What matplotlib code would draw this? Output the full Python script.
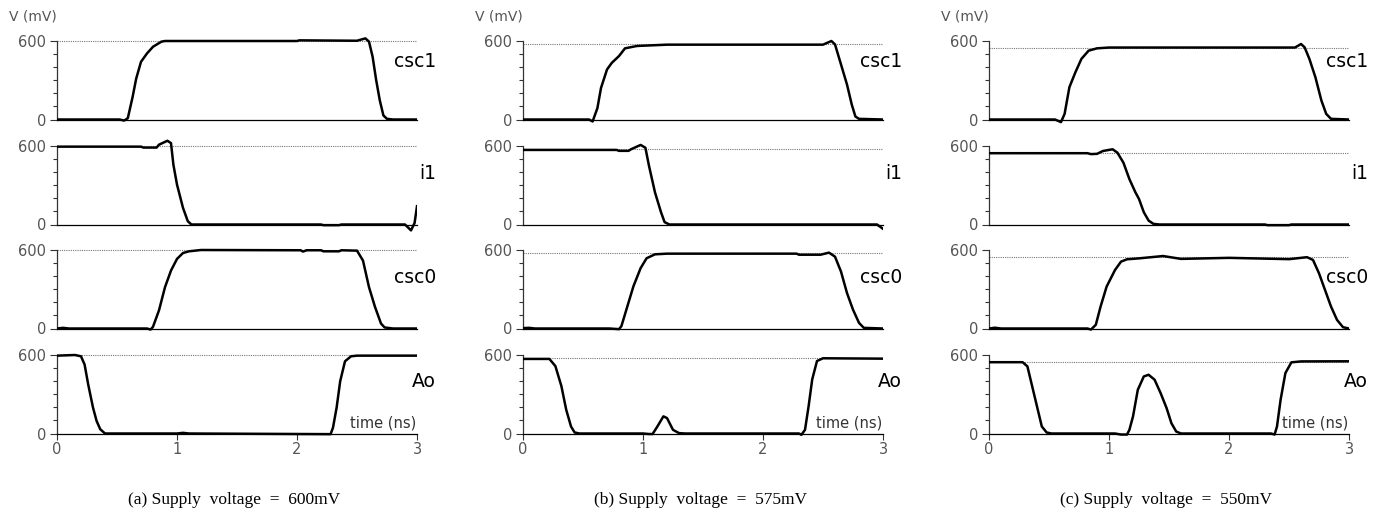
import numpy as np
import matplotlib
matplotlib.use("Agg")
import matplotlib.pyplot as plt
from matplotlib.ticker import MultipleLocator

# ---------------- data (time in ns, voltage in mV) ----------------
supply = [600, 575, 550]
captions = ["(a) Supply  voltage  =  600mV",
            "(b) Supply  voltage  =  575mV",
            "(c) Supply  voltage  =  550mV"]
signal_names = ["csc1", "i1", "csc0", "Ao"]
xticks = [0, 1, 2, 3]

# panel (a) 600mV
csc1_a_t = [0, 0.52, 0.56, 0.59, 0.63, 0.66, 0.70, 0.75, 0.80, 0.87, 0.90, 2.00, 2.02, 2.50, 2.57, 2.60, 2.63, 2.66, 2.69, 2.72, 2.75, 2.80, 3.0]
csc1_a_v = [0, 0, -8, 10, 172, 313, 441, 505, 556, 595, 600, 600, 605, 602, 620, 595, 480, 300, 146, 31, 5, 0, 0]
i1_a_t = [0, 0.70, 0.72, 0.83, 0.85, 0.92, 0.95, 0.97, 1.00, 1.05, 1.09, 1.12, 2.20, 2.22, 2.35, 2.37, 2.90, 2.95, 2.98, 3.0]
i1_a_v = [595, 595, 588, 588, 610, 640, 622, 457, 305, 127, 25, 0, 0, -5, -5, 0, 0, -45, 12, 140]
csc0_a_t = [0, 0.05, 0.10, 0.75, 0.78, 0.80, 0.85, 0.90, 0.95, 1.00, 1.05, 1.10, 1.20, 2.03, 2.05, 2.08, 2.20, 2.22, 2.35, 2.37, 2.50, 2.55, 2.60, 2.65, 2.70, 2.73, 2.80, 3.0]
csc0_a_v = [0, 5, 0, 0, -8, 13, 139, 316, 443, 532, 577, 590, 600, 598, 588, 598, 598, 590, 590, 598, 595, 519, 316, 165, 38, 8, 0, 0]
ao_a_t = [0, 0.15, 0.20, 0.23, 0.26, 0.30, 0.33, 0.36, 0.40, 1.00, 1.05, 1.10, 2.28, 2.30, 2.33, 2.36, 2.40, 2.45, 2.50, 3.0]
ao_a_v = [595, 600, 590, 527, 375, 198, 96, 33, 0, 0, 5, 0, -5, 45, 197, 400, 552, 590, 595, 595]

# panel (b) 575mV
csc1_b_t = [0, 0.55, 0.58, 0.62, 0.65, 0.70, 0.74, 0.80, 0.85, 0.95, 1.20, 2.50, 2.57, 2.60, 2.65, 2.70, 2.74, 2.77, 2.80, 3.0]
csc1_b_v = [0, 0, -15, 87, 241, 382, 433, 485, 544, 562, 572, 572, 600, 574, 421, 267, 113, 23, 5, 0]
i1_b_t = [0, 0.78, 0.80, 0.88, 0.90, 0.98, 1.02, 1.05, 1.10, 1.15, 1.18, 1.22, 2.95, 3.0]
i1_b_v = [570, 570, 563, 563, 575, 608, 587, 448, 245, 94, 18, 0, 0, -33]
csc0_b_t = [0, 0.05, 0.10, 0.72, 0.80, 0.82, 0.87, 0.92, 0.98, 1.03, 1.10, 1.20, 2.28, 2.30, 2.48, 2.55, 2.60, 2.65, 2.70, 2.75, 2.80, 2.84, 3.0]
csc0_b_v = [3, 5, 0, 0, -5, 18, 170, 322, 461, 537, 567, 572, 572, 564, 564, 580, 549, 435, 271, 144, 43, 5, 0]
ao_b_t = [0, 0.22, 0.27, 0.32, 0.36, 0.40, 0.43, 0.47, 1.00, 1.05, 1.08, 1.12, 1.17, 1.20, 1.25, 1.30, 1.35, 2.30, 2.32, 2.35, 2.38, 2.41, 2.45, 2.50, 3.0]
ao_b_v = [570, 570, 515, 362, 182, 54, 8, 0, 0, -4, -4, 54, 131, 118, 28, 3, 0, 0, -10, 28, 208, 413, 554, 575, 572]

# panel (c) 550mV
csc1_c_t = [0, 0.55, 0.60, 0.63, 0.67, 0.72, 0.77, 0.83, 0.90, 1.00, 2.55, 2.60, 2.63, 2.67, 2.72, 2.77, 2.81, 2.85, 3.0]
csc1_c_v = [0, 0, -20, 43, 247, 361, 463, 526, 544, 550, 550, 577, 552, 463, 323, 145, 43, 5, 0]
i1_c_t = [0, 0.82, 0.85, 0.90, 0.95, 1.03, 1.07, 1.12, 1.17, 1.22, 1.25, 1.29, 1.33, 1.37, 1.42, 2.30, 2.32, 2.50, 2.52, 3.0]
i1_c_v = [545, 545, 538, 540, 562, 575, 549, 473, 347, 246, 195, 94, 30, 5, 0, 0, -5, -5, 0, 0]
csc0_c_t = [0, 0.05, 0.10, 0.82, 0.85, 0.89, 0.93, 0.98, 1.05, 1.10, 1.15, 1.25, 1.45, 1.60, 2.00, 2.50, 2.65, 2.70, 2.75, 2.80, 2.85, 2.90, 2.95, 3.0]
csc0_c_v = [0, 6, 0, 0, -8, 28, 168, 320, 447, 511, 529, 536, 554, 532, 540, 530, 545, 524, 422, 295, 168, 66, 10, 0]
ao_c_t = [0, 0.28, 0.32, 0.36, 0.40, 0.44, 0.48, 0.52, 1.05, 1.10, 1.15, 1.17, 1.20, 1.24, 1.29, 1.33, 1.38, 1.43, 1.48, 1.52, 1.56, 1.60, 2.35, 2.38, 2.40, 2.43, 2.47, 2.52, 2.60, 3.0]
ao_c_v = [545, 545, 513, 360, 207, 54, 8, 0, 0, -8, -8, 28, 130, 334, 436, 449, 411, 309, 194, 79, 15, 0, 0, -8, 54, 258, 462, 544, 551, 552]

panels = [
    [(csc1_a_t, csc1_a_v), (i1_a_t, i1_a_v), (csc0_a_t, csc0_a_v), (ao_a_t, ao_a_v)],
    [(csc1_b_t, csc1_b_v), (i1_b_t, i1_b_v), (csc0_b_t, csc0_b_v), (ao_b_t, ao_b_v)],
    [(csc1_c_t, csc1_c_v), (i1_c_t, i1_c_v), (csc0_c_t, csc0_c_v), (ao_c_t, ao_c_v)],
]

# ---------------- layout (pixels) ----------------
W, H = 1388, 519
fig = plt.figure(figsize=(W / 100, H / 100), dpi=100)

x_left = [57, 523, 989]
x_width = 360
row_top = [41, 146, 250, 355]   # pixel row of 600 mV
row_h = 78.5                    # pixels for 600 mV
ylo, yhi = -60, 660
label_y = [440, 390, 390, 395]

tick_color = "#555555"

for p in range(3):
    for r in range(4):
        px_per_mv = row_h / 600.0
        y0_px = row_top[r] + row_h
        bottom_px = y0_px - ylo * px_per_mv
        height_px = (yhi - ylo) * px_per_mv
        ax = fig.add_axes([x_left[p] / W, 1 - bottom_px / H, x_width / W, height_px / H])
        ax.set_xlim(0, 3)
        ax.set_ylim(ylo, yhi)
        ax.patch.set_alpha(0)

        t, v = panels[p][r]
        ax.axhline(supply[p], color="#777777", lw=0.8, ls=(0, (1, 1)), zorder=1)
        ax.plot(t, v, color="black", lw=1.8, zorder=3, solid_joinstyle="round")

        for s in ["top", "right"]:
            ax.spines[s].set_visible(False)
        ax.spines["left"].set_bounds(0, 600)
        ax.spines["left"].set_color("#333333")
        ax.spines["left"].set_linewidth(0.9)
        ax.spines["bottom"].set_position(("data", 0))
        ax.spines["bottom"].set_linewidth(0.9)

        ax.set_yticks([0, 600])
        ax.yaxis.set_minor_locator(MultipleLocator(100))
        ax.tick_params(axis="y", which="major", length=5, width=0.8, color="#333333",
                       labelsize=10.5, labelcolor=tick_color, pad=3)
        ax.tick_params(axis="y", which="minor", length=3, width=0.8, color="#333333")

        if r == 3:
            ax.set_xticks(xticks)
            ax.tick_params(axis="x", length=4, width=0.8, color="#333333",
                           labelsize=10.5, labelcolor=tick_color, pad=2)
            ax.text(2.99, 84, "time (ns)", ha="right", va="center",
                    fontsize=10.5, color="#333333")
        else:
            ax.set_xticks([])

        ax.text(3.16, label_y[r], signal_names[r], ha="right", va="center",
                fontsize=13.5, color="black", clip_on=False)

        if r == 0:
            ax.text(0.0, 790, "V (mV)", ha="right", va="center",
                    fontsize=10, color=tick_color, clip_on=False)

    fig.text((x_left[p] + x_width / 2 - 3) / W, 1 - 500 / H, captions[p],
             ha="center", va="center", fontsize=12.5, family="Liberation Serif")

fig.savefig("out.png", dpi=100)
